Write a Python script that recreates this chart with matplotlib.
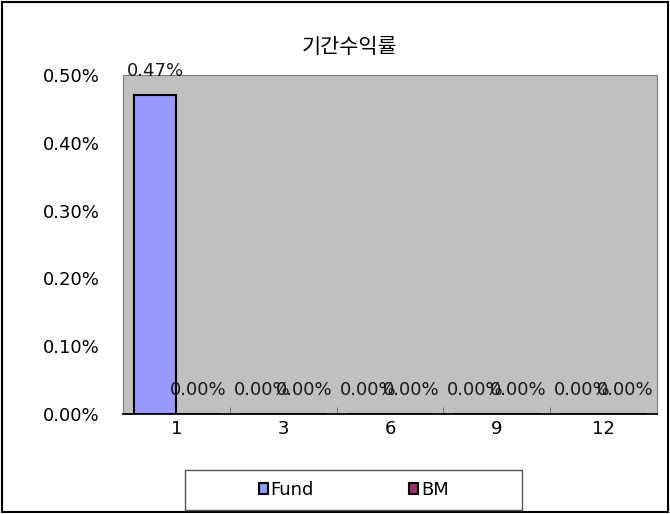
import numpy as np
import matplotlib
matplotlib.use("Agg")
from matplotlib import pyplot as plt
from matplotlib.patches import Rectangle

plt.rcParams['font.family'] = ['DejaVu Sans', 'Noto Sans CJK KR']

categories = ['1', '3', '6', '9', '12']
fund = [0.47, 0.00, 0.00, 0.00, 0.00]
bm = [0.00, 0.00, 0.00, 0.00, 0.00]
yticks = [0.0, 0.1, 0.2, 0.3, 0.4, 0.5]

fig = plt.figure(figsize=(6.7, 5.14), dpi=100)
fig.patch.set_facecolor('white')
fig.patches.append(Rectangle((0.003, 0.003), 0.994, 0.994, transform=fig.transFigure,
                             fill=False, edgecolor='black', linewidth=1.5))

ax = fig.add_axes([0.1836, 0.1946, 0.797, 0.6594])
ax.set_facecolor('#C0C0C0')

x = np.arange(len(categories))
w = 0.4
b1 = ax.bar(x - w / 2, fund, w, color='#9999FF', edgecolor='black', linewidth=1.5, label='Fund')
b2 = ax.bar(x + w / 2, bm, w, color='#993366', edgecolor='black', linewidth=1.5, label='BM')

for bars, vals in ((b1, fund), (b2, bm)):
    for r, v in zip(bars, vals):
        ax.annotate('%.2f%%' % v, (r.get_x() + r.get_width() / 2, v),
                    xytext=(0, 11), textcoords='offset points',
                    ha='center', va='bottom', fontsize=13, color='#1a1a1a')

ax.set_xlim(-0.5, len(categories) - 0.5)
ax.set_ylim(0, 0.5)
ax.set_yticks(yticks)
ax.set_yticklabels(['%.2f%%' % t for t in yticks], fontsize=13)
ax.tick_params(axis='y', length=0, pad=17)
ax.set_xticks(x)
ax.set_xticklabels(categories, fontsize=13)
ax.set_xticks(np.arange(0.5, len(categories) - 0.5), minor=True)
ax.tick_params(axis='x', which='major', length=0, pad=4)
ax.tick_params(axis='x', which='minor', length=5, color='#606060', direction='in')
for s in ax.spines.values():
    s.set_color('#808080')
ax.spines['bottom'].set_color('black')
ax.spines['bottom'].set_linewidth(1.3)

fig.text(0.522, 0.908, '기간수익률', ha='center', va='center', fontsize=15,
         family=['Noto Sans CJK KR', 'DejaVu Sans'])

fig.patches.append(Rectangle((0.276, 0.008), 0.503, 0.078, transform=fig.transFigure,
                             fill=False, edgecolor='#555555', linewidth=1.0))
leg = fig.legend(handles=[b1, b2], labels=['Fund', 'BM'], loc='center',
                 bbox_to_anchor=(0.528, 0.047), ncol=2, fontsize=13,
                 frameon=False, handlelength=0.5, handleheight=0.5,
                 handletextpad=0.15, columnspacing=5.3)

fig.savefig('out.png', dpi=100)
